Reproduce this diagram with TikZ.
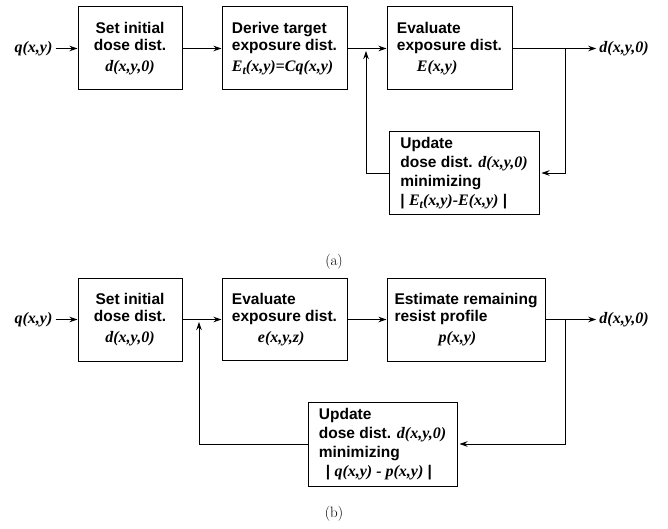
\documentclass[tikz,border=0pt]{standalone}
\usepackage{fontspec}
\setsansfont{Liberation Sans}
\newfontfamily\tnr{Liberation Serif}
\usetikzlibrary{arrows.meta}

% bold sans for step names, bold italic serif for the functions
\newcommand\lbl{\sffamily\bfseries\fontsize{15.5}{17}\selectfont}
\newcommand\lblwide{\sffamily\bfseries\fontsize{15.5}{19}\selectfont}
\newcommand\vr[1]{{\tnr\bfseries\itshape\fontsize{16}{17}\selectfont #1}}
\newcommand\tsub{\raisebox{-3pt}{\fontsize{12}{12}\selectfont t}}

\tikzset{
  blk/.style={draw, line width=1pt, inner sep=0pt, font=\lbl, minimum height=83pt},
  upd/.style={blk, font=\lblwide, align=left},
  flow/.style={line width=0.9pt, -{Stealth[length=8pt,width=5.5pt]}},
  sig/.style={inner sep=3pt, font=\tnr\bfseries\itshape\fontsize{16}{19}\selectfont},
  figcap/.style={inner sep=0pt, font=\rmfamily\fontsize{15}{18}\selectfont}
}

\begin{document}
\begin{tikzpicture}[x=1pt,y=-1pt]
\useasboundingbox (0,0) rectangle (668,529);

% ---------- (a) ----------
\node[sig] (qa) at (33.5,48.5) {q(x,y)};
\node[blk, minimum width=104pt, align=center] (b1a) at (130,48.5)
  {Set initial\\dose dist.\\[4pt]\vr{d(x,y,0)}};
\node[blk, minimum width=125pt, align=left] (b2a) at (284.5,48.5)
  {Derive target\\exposure dist.\\[4pt]\vr{E\tsub(x,y)=Cq(x,y)}};
\node[blk, minimum width=125pt, align=left] (b3a) at (449.5,48.5)
  {Evaluate\\exposure dist.\\[4pt]\hspace*{20pt}\vr{E(x,y)}};
\node[sig] (outa) at (624,48.5) {d(x,y,0)};
\node[upd, minimum width=150pt, minimum height=82pt] (ua) at (464,173)
  {Update\\dose dist. \vr{d(x,y,0)}\\minimizing\\| \vr{E\tsub(x,y)-E(x,y)} |};

\coordinate (ja) at (366,48.5);
\coordinate (ka) at (565,48.5);

\draw[flow] (qa) -- (b1a);
\draw[flow] (b1a) -- (b2a);
\draw[flow] (b2a) -- (b3a);
\draw[flow] (b3a) -- (outa);
\draw[flow, shorten >=2.5pt] (ua.west) -| (ja);
\draw[flow, shorten >=2pt] (ka) |- (ua.east);

\node[figcap] (capa) at (334,262) {(a)};

% ---------- (b) ----------
\node[sig] (qb) at (33.5,319.5) {q(x,y)};
\node[blk, minimum width=104pt, align=center] (b1b) at (130,319.5)
  {Set initial\\dose dist.\\[4pt]\vr{d(x,y,0)}};
\node[blk, minimum width=125pt, minimum height=82pt, align=left] (b2b) at (284.5,319.5)
  {Evaluate\\exposure dist.\\[4pt]\hspace*{26pt}\vr{e(x,y,z)}};
\node[blk, minimum width=158pt, align=left] (b3b) at (466,319.5)
  {Estimate remaining\\resist profile\\[4pt]\hspace*{44pt}\vr{p(x,y)}};
\node[sig] (outb) at (624,319.5) {d(x,y,0)};
\node[upd, minimum width=149pt, minimum height=84pt] (ub) at (382.5,444)
  {Update\\dose dist. \vr{d(x,y,0)}\\minimizing\\\hspace*{7pt}| \vr{q(x,y) - p(x,y)} |};

\coordinate (jb) at (199,319.5);
\coordinate (kb) at (565,319.5);

\draw[flow] (qb) -- (b1b);
\draw[flow] (b1b) -- (b2b);
\draw[flow] (b2b) -- (b3b);
\draw[flow] (b3b) -- (outb);
\draw[flow, shorten >=2.5pt] (ub.west) -| (jb);
\draw[flow, shorten >=2pt] (kb) |- (ub.east);

\node[figcap] (capb) at (334,514) {(b)};
\end{tikzpicture}
\end{document}
